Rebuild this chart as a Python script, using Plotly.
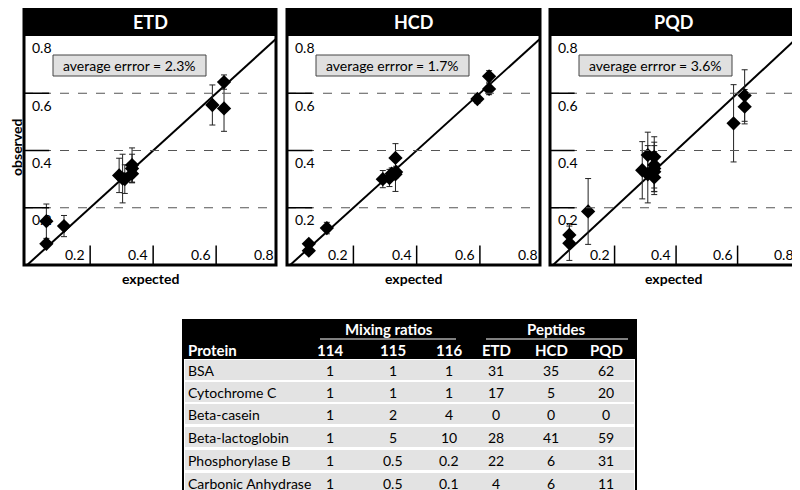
import plotly.graph_objects as go

# ---------------- data ----------------
etd_x = [0.061, 0.061, 0.117, 0.292, 0.303, 0.310, 0.333, 0.333, 0.333, 0.588, 0.625, 0.625]
etd_y = [0.153, 0.074, 0.136, 0.313, 0.302, 0.300, 0.349, 0.319, 0.337, 0.559, 0.639, 0.547]
etd_e = [0.060, 0.010, 0.037, 0.060, 0.085, 0.050, 0.060, 0.030, 0.050, 0.070, 0.025, 0.080]

hcd_x = [0.059, 0.059, 0.116, 0.293, 0.314, 0.321, 0.333, 0.333, 0.335, 0.592, 0.629, 0.629]
hcd_y = [0.074, 0.050, 0.129, 0.300, 0.304, 0.319, 0.374, 0.317, 0.325, 0.580, 0.659, 0.615]
hcd_e = [0.010, 0.010, 0.020, 0.030, 0.030, 0.020, 0.050, 0.060, 0.020, 0.015, 0.020, 0.020]

pqd_x = [0.053, 0.053, 0.114, 0.290, 0.308, 0.308, 0.329, 0.329, 0.329, 0.329, 0.329, 0.587, 0.623, 0.623]
pqd_y = [0.076, 0.105, 0.187, 0.331, 0.384, 0.317, 0.378, 0.349, 0.326, 0.306, 0.337, 0.495, 0.592, 0.553]
pqd_e = [0.060, 0.040, 0.115, 0.100, 0.080, 0.100, 0.070, 0.080, 0.070, 0.060, 0.080, 0.135, 0.090, 0.060]

methods = ["ETD", "HCD", "PQD"]
avg_errors = ["2.3%", "1.7%", "3.6%"]
tick_vals = [0.2, 0.4, 0.6]
tick_labels = ["0.2", "0.4", "0.6", "0.8"]

proteins = ["BSA", "Cytochrome C", "Beta-casein", "Beta-lactoglobin", "Phosphorylase B", "Carbonic Anhydrase"]
r114 = ["1", "1", "1", "1", "1", "1"]
r115 = ["1", "1", "2", "5", "0.5", "0.5"]
r116 = ["1", "1", "4", "10", "0.2", "0.1"]
pep_etd = ["31", "17", "0", "28", "22", "4"]
pep_hcd = ["35", "5", "0", "41", "6", "6"]
pep_pqd = ["62", "20", "0", "59", "31", "11"]

# --------------- figure ---------------
W, H = 800, 490
def px(x): return x / W
def py(y): return 1 - y / H

FONT = "Lato"
panels_px = [(16, 268), (279, 532), (542, 788)]
ytop_px, ybot_px = 28, 257
series = [(etd_x, etd_y, etd_e), (hcd_x, hcd_y, hcd_e), (pqd_x, pqd_y, pqd_e)]

fig = go.Figure()
shapes, annos = [], []
layout = {}

def txt(x, y, text, font, xa="center", ya="middle", **kw):
    d = dict(xref="paper", yref="paper", x=x, y=y, text=text, showarrow=False,
             xanchor=xa, yanchor=ya, font=font)
    d.update(kw)
    annos.append(d)

for i, ((l, r), (xs, ys, es)) in enumerate(zip(panels_px, series)):
    n = "" if i == 0 else str(i + 1)
    xa, ya = "x" + n, "y" + n
    layout["xaxis" + n] = dict(domain=[px(l), px(r)], range=[-0.01, 0.79], showticklabels=False,
                               showgrid=False, zeroline=False, ticks="", anchor=ya, fixedrange=True)
    layout["yaxis" + n] = dict(domain=[py(ybot_px), py(ytop_px)], range=[0, 0.8], showticklabels=False,
                               showgrid=False, zeroline=False, ticks="", anchor=xa, fixedrange=True)
    fig.add_trace(go.Scatter(x=[-0.05, 0.85], y=[-0.05, 0.85], mode="lines", xaxis=xa, yaxis=ya,
                             line=dict(color="black", width=2), showlegend=False, hoverinfo="skip"))
    fig.add_trace(go.Scatter(x=xs, y=ys, mode="markers", xaxis=xa, yaxis=ya, showlegend=False,
                             marker=dict(symbol="diamond", size=11, color="black"),
                             error_y=dict(type="data", array=es, color="#222", thickness=1, width=3)))
    for v in tick_vals:
        shapes.append(dict(type="line", xref=xa + " domain", yref=ya, x0=0, x1=1, y0=v, y1=v,
                           line=dict(color="#555", width=1, dash="dash")))
        shapes.append(dict(type="line", xref=xa + " domain", yref=ya, x0=0, x1=0.1, y0=v, y1=v,
                           line=dict(color="black", width=1.5)))
        shapes.append(dict(type="line", xref=xa, yref=ya + " domain", x0=v, x1=v, y0=0, y1=0.085,
                           line=dict(color="black", width=1.5)))
    for v, t in zip(tick_vals + [0.8], tick_labels):
        annos.append(dict(xref=xa, yref=ya + " domain", x=v - 0.01, y=0.0, text=t, showarrow=False,
                          xanchor="right", yanchor="bottom", font=dict(family=FONT, size=14, color="black")))
        annos.append(dict(xref=xa + " domain", yref=ya, x=0.025, y=v - 0.005, text=t, showarrow=False,
                          xanchor="left", yanchor="top", font=dict(family=FONT, size=14, color="black")))
    shapes.append(dict(type="rect", xref="paper", yref="paper", x0=px(l), x1=px(r), y0=py(ybot_px), y1=py(1),
                       line=dict(color="black", width=3)))
    shapes.append(dict(type="rect", xref="paper", yref="paper", x0=px(l), x1=px(r), y0=py(ytop_px), y1=py(1),
                       fillcolor="black", line=dict(color="black", width=0)))
    txt(px((l + r) / 2), py(14), "<b>%s</b>" % methods[i], dict(family=FONT, size=18, color="white"))
    shapes.append(dict(type="rect", xref="paper", yref="paper", x0=px(l + 29), x1=px(l + 182),
                       y0=py(68), y1=py(47), fillcolor="#e0e0e0", line=dict(color="#444", width=1)))
    txt(px(l + 105), py(57.5), "average errror = " + avg_errors[i], dict(family=FONT, size=14, color="black"))
    txt(px((l + r) / 2), py(270), "<b>expected</b>", dict(family=FONT, size=14, color="black"))
txt(px(8), py(140), "<b>observed</b>", dict(family=FONT, size=14, color="black"), textangle=-90)

# --------------- table ---------------
tl, tr, tt, tb = 175, 628, 312, 485
shapes.append(dict(type="rect", xref="paper", yref="paper", x0=px(tl), x1=px(tr), y0=py(tb), y1=py(tt),
                   fillcolor="white", line=dict(color="black", width=2)))
shapes.append(dict(type="rect", xref="paper", yref="paper", x0=px(tl), x1=px(tr), y0=py(351), y1=py(tt),
                   fillcolor="black", line=dict(width=0)))
row_y = [362, 384, 406, 429, 452, 475]
for yc in row_y:
    shapes.append(dict(type="rect", xref="paper", yref="paper", x0=px(tl + 2), x1=px(tr - 2),
                       y0=py(yc + 10), y1=py(yc - 10), fillcolor="#e3e3e3", line=dict(width=0)))
wf = dict(family=FONT, size=15, color="white")
bf = dict(family=FONT, size=14, color="black")
txt(px(381), py(321), "<b>Mixing ratios</b>", wf)
txt(px(548), py(321), "<b>Peptides</b>", wf)
shapes.append(dict(type="line", xref="paper", yref="paper", x0=px(312), x1=px(448), y0=py(331), y1=py(331), line=dict(color="white", width=1)))
shapes.append(dict(type="line", xref="paper", yref="paper", x0=px(478), x1=px(620), y0=py(331), y1=py(331), line=dict(color="white", width=1)))
txt(px(178), py(342), "<b>Protein</b>", wf, xa="left")
col_x = [322, 385, 441, 488, 543, 598]
col_head = ["114", "115", "116", "ETD", "HCD", "PQD"]
cols = [r114, r115, r116, pep_etd, pep_hcd, pep_pqd]
for cx, h in zip(col_x, col_head):
    txt(px(cx), py(342), "<b>%s</b>" % h, wf)
for j, p in enumerate(proteins):
    txt(px(178), py(row_y[j]), p, bf, xa="left")
    for cx, col in zip(col_x, cols):
        txt(px(cx), py(row_y[j]), col[j], bf)

fig.update_layout(width=W, height=H, margin=dict(l=0, r=0, t=0, b=0), plot_bgcolor="white",
                  paper_bgcolor="white", shapes=shapes, annotations=annos, **layout)
fig.write_html("out.html", config={"displayModeBar": False})
